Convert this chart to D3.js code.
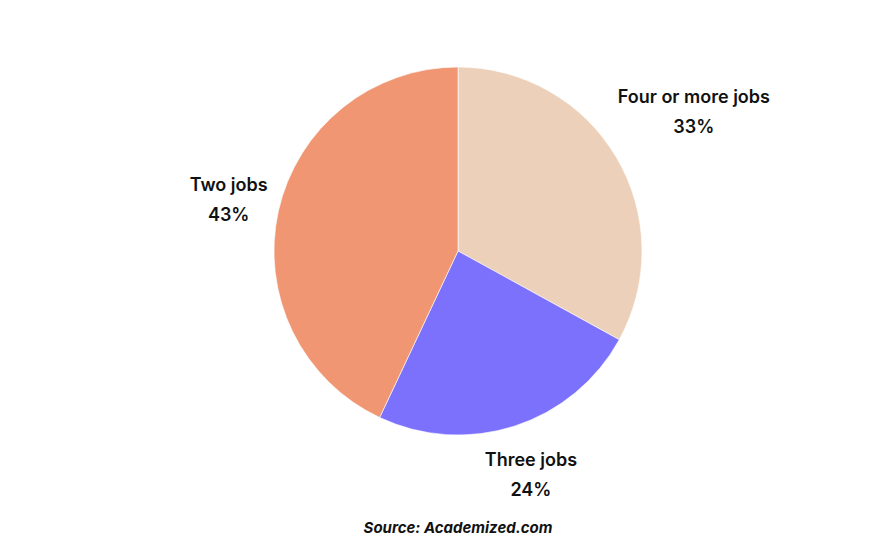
<!DOCTYPE html>
<html>
<head>
<meta charset="utf-8">
<script src="https://cdn.jsdelivr.net/npm/d3@7"></script>
<style>
  html, body { margin: 0; padding: 0; background: #fff; }
  text { font-family: "Inter", "Roboto", sans-serif; fill: #111; }
  .lbl { font-size: 18px; font-weight: 600; }
  .src { font-size: 15px; font-weight: 700; font-style: italic; }
</style>
</head>
<body>
<svg id="chart"></svg>
<script>
// data
var categories = ["Four or more jobs", "Three jobs", "Two jobs"];
var shares = [33, 24, 43];
var colors = ["#EDD0B9", "#7C71FC", "#F09673"];

var w = 883,
    h = 551,
    cx = 458, cy = 251,
    radius = 184;

// label distance from centre, per slice
var labelR = { "Four or more jobs": 274, "Three jobs": 236, "Two jobs": 235 };

var data = categories.map(function(c, i) { return { name: c, value: shares[i], color: colors[i] }; });

var svg = d3.select("#chart")
    .attr("width", w)
    .attr("height", h);

var pie = d3.pie()
    .sort(null)
    .value(function(d) { return d.value; });

var arc = d3.arc()
    .innerRadius(0)
    .outerRadius(radius);

var g = svg.append("g")
    .attr("transform", "translate(" + cx + "," + cy + ")");

g.selectAll("path")
    .data(pie(data))
  .enter().append("path")
    .attr("d", arc)
    .attr("fill", function(d) { return d.data.color; })
    .attr("stroke", "#fff")
    .attr("stroke-width", 0.6);

var labels = g.selectAll("g.label")
    .data(pie(data))
  .enter().append("g")
    .attr("class", "label")
    .attr("text-anchor", "middle")
    .attr("transform", function(d) {
      var a = (d.startAngle + d.endAngle) / 2,
          r = labelR[d.data.name];
      return "translate(" + (r * Math.sin(a)) + "," + (-r * Math.cos(a)) + ")";
    });

labels.append("text")
    .attr("class", "lbl")
    .attr("y", -9)
    .text(function(d) { return d.data.name; });

labels.append("text")
    .attr("class", "lbl")
    .attr("y", 21)
    .text(function(d) { return d.data.value + "%"; });

svg.append("text")
    .attr("class", "src")
    .attr("x", cx)
    .attr("y", 533)
    .attr("text-anchor", "middle")
    .text("Source: Academized.com");
</script>
</body>
</html>
